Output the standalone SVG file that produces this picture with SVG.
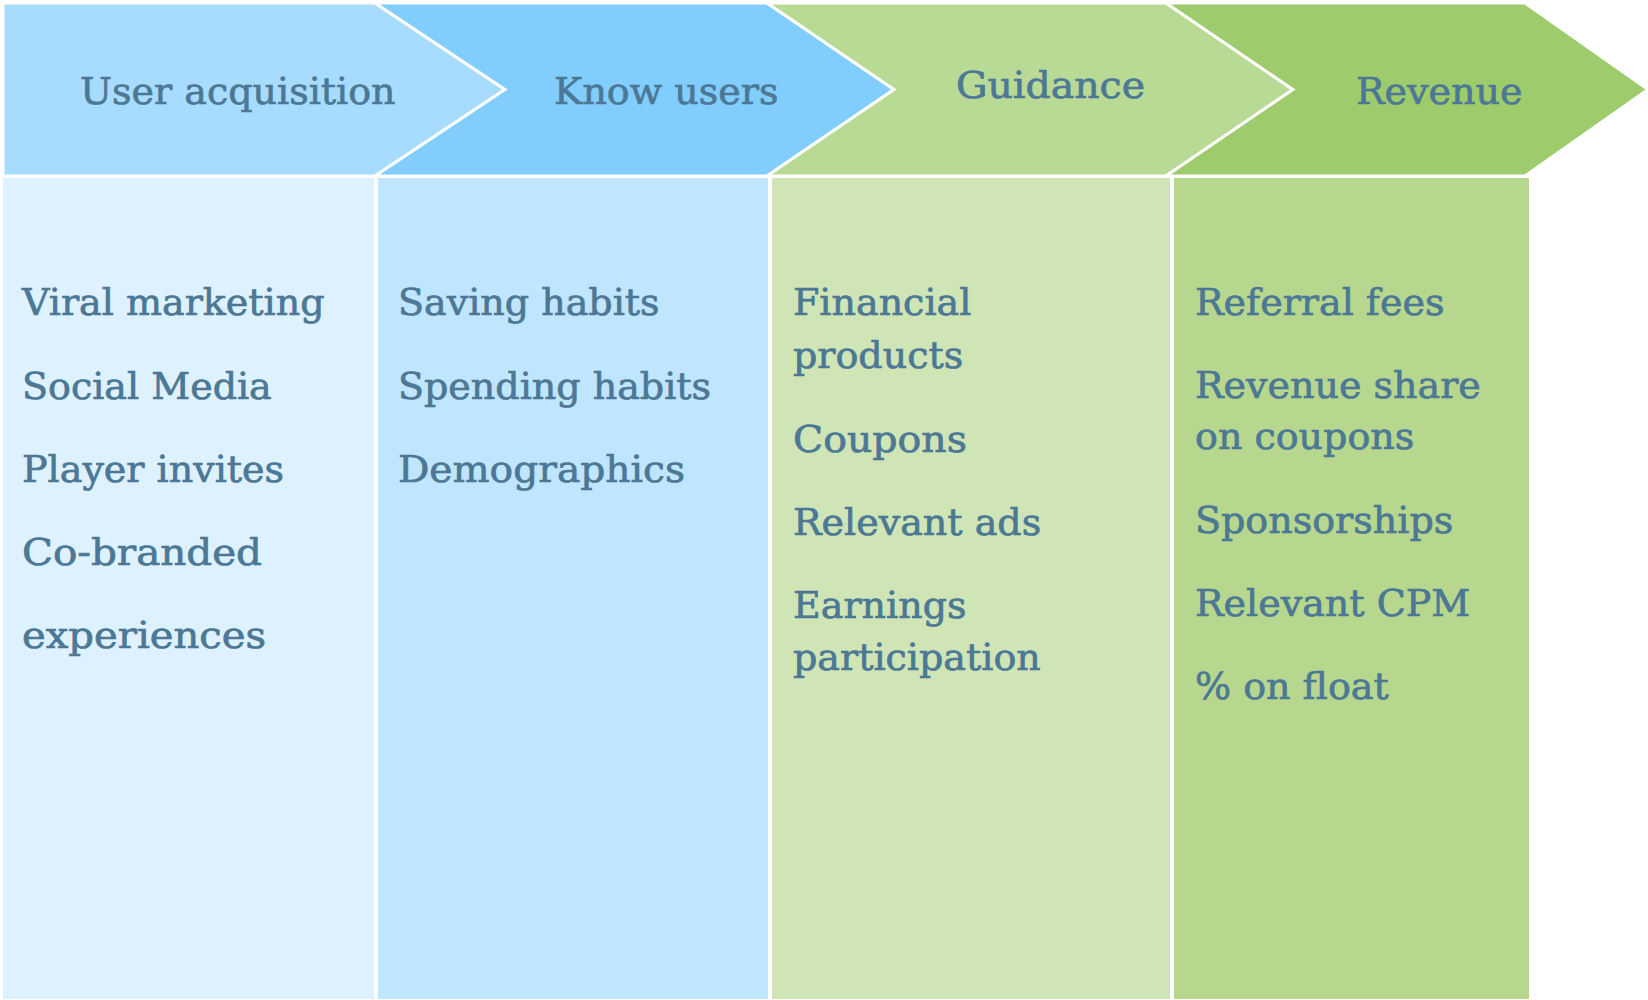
<svg xmlns="http://www.w3.org/2000/svg" width="1648" height="1000" viewBox="0 0 1648 1000">
<style>
.chev{stroke:#ffffff;stroke-width:3;stroke-linejoin:miter}
.col{stroke:none}
.h{font-family:"DejaVu Serif","Liberation Serif",serif;font-size:38px;fill:#4C7895;stroke:#4C7895;stroke-width:0.7}
.t{font-family:"DejaVu Serif","Liberation Serif",serif;font-size:38px;fill:#4C7895;stroke:#4C7895;stroke-width:0.7}
</style>
<rect x="0" y="0" width="1648" height="1000" fill="#ffffff"/>
<g id="stage-user-acquisition">
<polygon class="chev" fill="#A7DCFE" points="3,3 375,3 505,89.5 375,176 3,176"/>
<text class="h" x="80" y="104">User acquisition</text>
<rect class="col" fill="#DEF1FE" x="3" y="178" width="371" height="821"/>
<text class="t" x="22" y="315">Viral marketing</text>
<text class="t" x="22" y="399">Social Media</text>
<text class="t" x="22" y="482">Player invites</text>
<text class="t" x="22" y="565" textLength="240" lengthAdjust="spacingAndGlyphs">Co-branded</text>
<text class="t" x="22" y="648" textLength="244" lengthAdjust="spacingAndGlyphs">experiences</text>
</g>
<g id="stage-know-users">
<polygon class="chev" fill="#81CDFE" points="375,3 767,3 894,89.5 767,176 375,176 505,89.5"/>
<text class="h" x="554" y="104">Know users</text>
<rect class="col" fill="#BFE6FE" x="378" y="178" width="390" height="821"/>
<text class="t" x="398" y="315">Saving habits</text>
<text class="t" x="398" y="399">Spending habits</text>
<text class="t" x="398" y="482" textLength="287" lengthAdjust="spacingAndGlyphs">Demographics</text>
</g>
<g id="stage-guidance">
<polygon class="chev" fill="#B8DA95" points="767,3 1166,3 1293,89.5 1166,176 767,176 894,89.5"/>
<text class="h" x="956" y="98" textLength="189" lengthAdjust="spacingAndGlyphs">Guidance</text>
<rect class="col" fill="#CFE5B5" x="772" y="178" width="398" height="821"/>
<text class="t" x="793" y="315">Financial</text>
<text class="t" x="793" y="368">products</text>
<text class="t" x="793" y="452" textLength="174" lengthAdjust="spacingAndGlyphs">Coupons</text>
<text class="t" x="793" y="535">Relevant ads</text>
<text class="t" x="793" y="618">Earnings</text>
<text class="t" x="793" y="670">participation</text>
</g>
<g id="stage-revenue">
<polygon class="chev" fill="#9ECB6C" points="1166,3 1525,3 1648,89.5 1525,176 1166,176 1293,89.5"/>
<text class="h" x="1356" y="104">Revenue</text>
<rect class="col" fill="#B6D78D" x="1174" y="178" width="355" height="821"/>
<text class="t" x="1195" y="315">Referral fees</text>
<text class="t" x="1195" y="398">Revenue share</text>
<text class="t" x="1195" y="449">on coupons</text>
<text class="t" x="1195" y="533">Sponsorships</text>
<text class="t" x="1195" y="616">Relevant CPM</text>
<text class="t" x="1195" y="699">% on float</text>
</g>
</svg>
